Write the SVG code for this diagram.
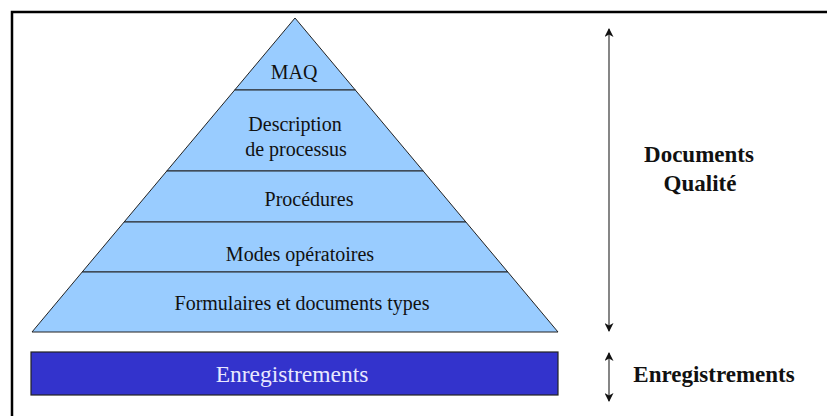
<svg xmlns="http://www.w3.org/2000/svg" width="827" height="416" viewBox="0 0 827 416">
<defs>
<style>
.lvl{fill:#99CCFF;stroke:#222;stroke-width:1}
.t{font-family:"Liberation Serif","Times New Roman",serif;font-size:20px;fill:#111;text-anchor:middle}
.b{font-family:"Liberation Serif","Times New Roman",serif;font-size:23px;font-weight:bold;fill:#111;text-anchor:middle}
.arr{stroke:#444;stroke-width:1.3;fill:none;marker-start:url(#ah);marker-end:url(#ah)}
</style>
<marker id="ah" viewBox="0 0 10 10" refX="9" refY="5" markerWidth="10" markerHeight="9" markerUnits="userSpaceOnUse" orient="auto-start-reverse">
<path d="M0,0 L10,5 L0,10 L3,5 Z" fill="#111"/>
</marker>
</defs>
<rect x="12" y="12" width="900" height="500" fill="#fff" stroke="#000" stroke-width="2.5"/>
<g id="maq"><polygon class="lvl" points="295,18 355.3,90 234.7,90"/><text class="t" x="294" y="79">MAQ</text></g>
<g id="description"><polygon class="lvl" points="234.7,90 355.3,90 423.2,171 166.8,171"/><text class="t" x="295" y="131">Description</text><text class="t" x="296" y="156">de processus</text></g>
<g id="procedures"><polygon class="lvl" points="166.8,171 423.2,171 465.9,222 124.1,222"/><text class="t" x="309" y="206">Procédures</text></g>
<g id="modes"><polygon class="lvl" points="124.1,222 465.9,222 507.8,272 82.2,272"/><text class="t" x="300" y="261">Modes opératoires</text></g>
<g id="formulaires"><polygon class="lvl" points="82.2,272 507.8,272 558,332 32,332"/><text class="t" x="302" y="310">Formulaires et documents types</text></g>
<g id="enregistrements-box"><rect x="31" y="352" width="527" height="43" fill="#3333CC" stroke="#222" stroke-width="1.2"/><text class="t" x="292" y="382" style="fill:#E8E8FF;font-size:23.5px">Enregistrements</text></g>
<g id="documents-qualite"><text class="b" x="699" y="162">Documents</text><text class="b" x="700" y="191">Qualité</text></g>
<g id="enregistrements-label"><text class="b" x="714" y="382">Enregistrements</text></g>
<g id="connectors">
<line class="arr" x1="609" y1="29" x2="609" y2="331"/>
<line class="arr" x1="609" y1="353" x2="609" y2="401"/>
</g>
</svg>
